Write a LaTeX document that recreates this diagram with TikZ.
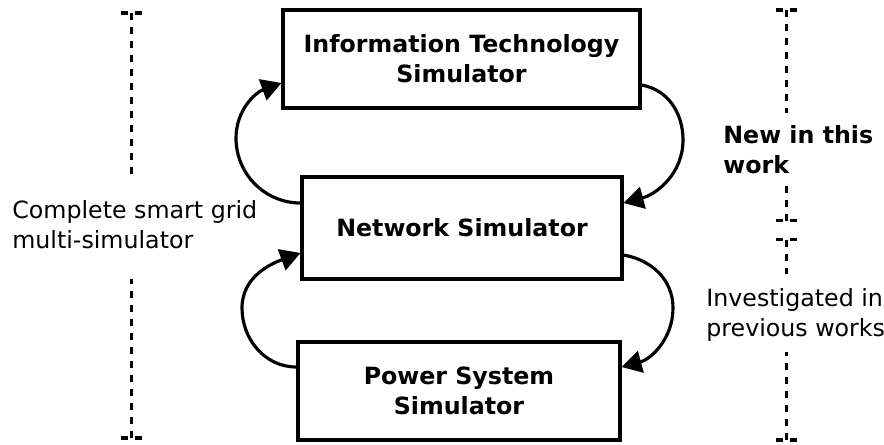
\documentclass[tikz,border=0pt]{standalone}
\usepackage{fontspec}
\setmainfont{DejaVu Sans}
\usepackage{tikz}
\usepackage{xcolor}
\usetikzlibrary{shapes,arrows.meta,positioning}

\tikzset{
  simbox/.style={rectangle, draw, line width=1.8pt, align=center,
    font=\fontsize{13.5}{17}\selectfont\bfseries},
  looparrow/.style={line width=1.8pt, -{Triangle[length=0.4cm,width=0.44cm]}},
  scopeline/.style={line width=1.9pt, dash pattern=on 0.14cm off 0.14cm},
  scopelabel/.style={inner sep=0pt, anchor=west, align=left,
    font=\fontsize{13.5}{17}\selectfont},
}

\begin{document}
\begin{tikzpicture}[x=0.02cm, y=0.02cm]
\useasboundingbox (0,0) rectangle (884,444);

% the three simulators
\node[simbox, minimum width=7.14cm, minimum height=1.96cm] (it) at (461.5,385) {Information Technology\\Simulator};
\node[simbox, minimum width=6.4cm, minimum height=2.04cm] (net) at (462,216) {Network Simulator};
\node[simbox, minimum width=6.44cm, minimum height=1.96cm] (power) at (459,53) {Power System\\Simulator};

% coupling loops
\coordinate (upL) at (236,306);
\coordinate (upR) at (683,304);
\coordinate (lowL) at (242,136);
\coordinate (lowR) at (673,136);
\draw[looparrow] ([yshift=0.5cm]net.west) to[out=180, in=-90] (upL) to[out=90, in=200] ([yshift=-0.48cm]it.west);
\draw[looparrow] ([yshift=-0.52cm]it.east) to[out=-10, in=90] (upR) to[out=-90, in=15] ([yshift=0.5cm]net.east);
\draw[looparrow] ([yshift=0.48cm]power.west) to[out=180, in=-90] (lowL) to[out=90, in=200] ([yshift=-0.5cm]net.west);
\draw[looparrow] ([yshift=-0.54cm]net.east) to[out=-10, in=90] (lowR) to[out=-90, in=15] ([yshift=0.48cm]power.east);

% scope labels
\node[scopelabel] (all) at (12,219) {Complete smart grid\\multi-simulator};
\node[scopelabel, font=\fontsize{13.5}{17}\selectfont\bfseries] (new) at (723,294) {New in this\\work};
\node[scopelabel] (prev) at (706,129) {Investigated in\\previous works};

% scope brackets
\coordinate (allT) at (131.5,431);
\coordinate (allA) at (131.5,266);
\coordinate (allB) at (131.5,165);
\coordinate (allE) at (131.5,6);
\coordinate (newT) at (786.5,434);
\coordinate (newA) at (786.5,331);
\coordinate (newB) at (786.5,260);
\coordinate (newE) at (786.5,223.5);
\coordinate (prevT) at (786.5,204.5);
\coordinate (prevA) at (786.5,164);
\coordinate (prevB) at (786.5,92);
\coordinate (prevE) at (786.5,4);

\draw[scopeline] (allT) -- (allA);
\draw[scopeline] (allE) -- (allB);
\draw[scopeline] ([xshift=-0.21cm]allT) -- ([xshift=0.21cm]allT);
\draw[scopeline] ([xshift=-0.21cm]allE) -- ([xshift=0.21cm]allE);

\draw[scopeline] (newT) -- (newA);
\draw[scopeline] (newE) -- (newB);
\draw[scopeline] ([xshift=-0.21cm]newT) -- ([xshift=0.21cm]newT);
\draw[scopeline] ([xshift=-0.21cm]newE) -- ([xshift=0.21cm]newE);

\draw[scopeline] (prevT) -- (prevA);
\draw[scopeline] (prevE) -- (prevB);
\draw[scopeline] ([xshift=-0.21cm]prevT) -- ([xshift=0.21cm]prevT);
\draw[scopeline] ([xshift=-0.21cm]prevE) -- ([xshift=0.21cm]prevE);
\end{tikzpicture}
\end{document}
